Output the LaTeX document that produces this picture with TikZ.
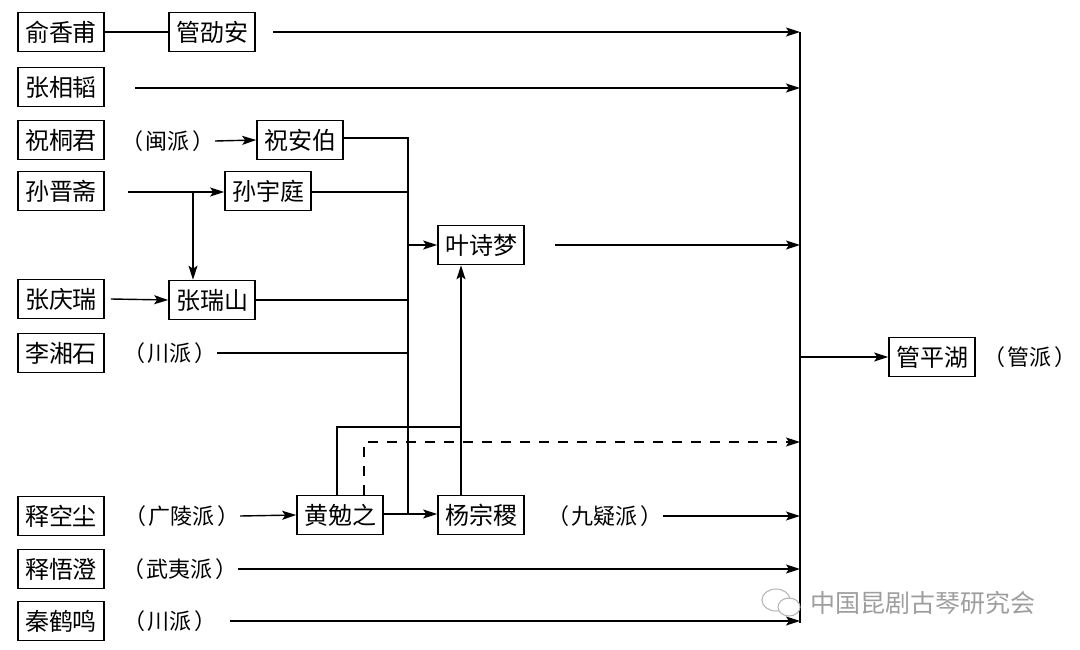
\documentclass[tikz,border=0pt]{standalone}
\usepackage{fontspec}
\newfontfamily\cjk{Noto Sans CJK SC}
\usetikzlibrary{arrows.meta}
\newcommand{\pl}[1]{（\hspace{3pt}#1\hspace{3pt}）}
\begin{document}
\begin{tikzpicture}[x=1pt,y=-1pt,
  box/.style={draw,line width=1.6pt,minimum width=86pt,minimum height=39pt,inner sep=0pt,font=\cjk\fontsize{24}{24}\selectfont},
  lbl/.style={inner sep=0pt,font=\cjk\fontsize{22}{22}\selectfont},
  conn/.style={line width=1.4pt},
  arr/.style={conn,-{Stealth[length=14pt,width=9pt,inset=3pt]}},
  wm/.style={inner sep=0pt,text=black!38,font=\cjk\fontsize{25}{25}\selectfont}]
\useasboundingbox (0,0) rectangle (1080,650);
% nodes
\node[box] (yu) at (61,32) {俞香甫};
\node[box] (gsa) at (212,32) {管劭安};
\node[box] (zxt) at (61,87) {张相韬};
\node[box] (ztj) at (61,140) {祝桐君};
\node[lbl] (minpai) at (168,141) {\pl{闽派}};
\node[box] (zab) at (300,140) {祝安伯};
\node[box] (sjz) at (61,191) {孙晋斋};
\node[box] (syt) at (268,191) {孙宇庭};
\node[box] (ysm) at (481,245) {叶诗梦};
\node[box] (zqr) at (61,299) {张庆瑞};
\node[box] (zrs) at (212,300) {张瑞山};
\node[box] (lxs) at (61,353) {李湘石};
\node[lbl] (chuan1) at (170,353) {\pl{川派}};
\node[box] (gph) at (932,357) {管平湖};
\node[lbl] (guanpai) at (1030,357) {\pl{管派}};
\node[box] (kc) at (61,516) {释空尘};
\node[lbl] (guangling) at (182,516) {\pl{广陵派}};
\node[box] (hmz) at (340,515) {黄勉之};
\node[box] (yzj) at (481,515) {杨宗稷};
\node[lbl] (jiuyi) at (605,516) {\pl{九疑派}};
\node[box] (wc) at (61,569) {释悟澄};
\node[lbl] (wuyi) at (180,569) {\pl{武夷派}};
\node[box] (qhm) at (61,621) {秦鹤鸣};
\node[lbl] (chuan2) at (170,621) {\pl{川派}};
% coordinates
\coordinate (s1) at (273,32);
\coordinate (b1) at (800,32);
\coordinate (s2) at (135,88);
\coordinate (b2) at (800,88);
\coordinate (s4) at (128,192);
\coordinate (br) at (193,192);
\coordinate (vtop) at (408,138);
\coordinate (v2) at (408,192);
\coordinate (v3) at (408,245);
\coordinate (v5) at (408,300);
\coordinate (v6) at (408,353);
\coordinate (vbot) at (408,514);
\coordinate (s3) at (555,245);
\coordinate (b3) at (800,245);
\coordinate (bm) at (800,357);
\coordinate (loopA) at (337,427);
\coordinate (loopB) at (461,427);
\coordinate (dashA) at (364,442);
\coordinate (bd) at (800,442);
\coordinate (b7) at (800,516);
\coordinate (b8) at (800,569);
\coordinate (s9) at (230,621);
\coordinate (b9) at (800,621);
\coordinate (bustop) at (800,32);
\coordinate (busbot) at (800,623);
% connectors
\draw[conn] (yu.east) -- (gsa.west);
\draw[arr] (s1) -- (b1);
\draw[arr] (s2) -- (b2);
\draw[arr] (minpai.east) -- (zab.west);
\draw[conn] (zab.east |- vtop) -- (vtop) -- (vbot);
\draw[arr] (s4) -- (syt.west |- s4);
\draw[arr] (br) -- (br |- zrs.north);
\draw[conn] (syt.east |- v2) -- (v2);
\draw[arr] (v3) -- (ysm.west);
\draw[arr] (s3) -- (b3);
\draw[arr] ([xshift=6pt]zqr.east) -- (zrs.west);
\draw[conn] (zrs.east) -- (v5);
\draw[conn] (chuan1.east) -- (v6);
\draw[arr] (guangling.east) -- (hmz.west);
\draw[arr] (hmz.east |- vbot) -- (yzj.west |- vbot);
\draw[conn] (loopA |- hmz.north) -- (loopA) -- (loopB);
\draw[arr] (loopB |- yzj.north) -- (loopB |- ysm.south);
\draw[conn,dash pattern=on 10pt off 9pt] (dashA |- hmz.north) -- (dashA) -- ([xshift=-14pt]bd);
\draw[arr] ([xshift=-14pt]bd) -- (bd);
\draw[arr] (jiuyi.east) -- (b7);
\draw[arr] (wuyi.east) -- (b8);
\draw[arr] (s9) -- (b9);
\draw[conn] (bustop) -- (busbot);
\draw[arr] (bm) -- (gph.west);
% watermark
\draw[black!30,line width=1pt] (776,600) ellipse (14pt and 11pt);
\draw[black!30,line width=1pt,fill=white] (789,607) ellipse (11pt and 9pt);
\node[wm,anchor=west] (wmt) at (810,603) {中国昆剧古琴研究会};
\end{tikzpicture}
\end{document}
